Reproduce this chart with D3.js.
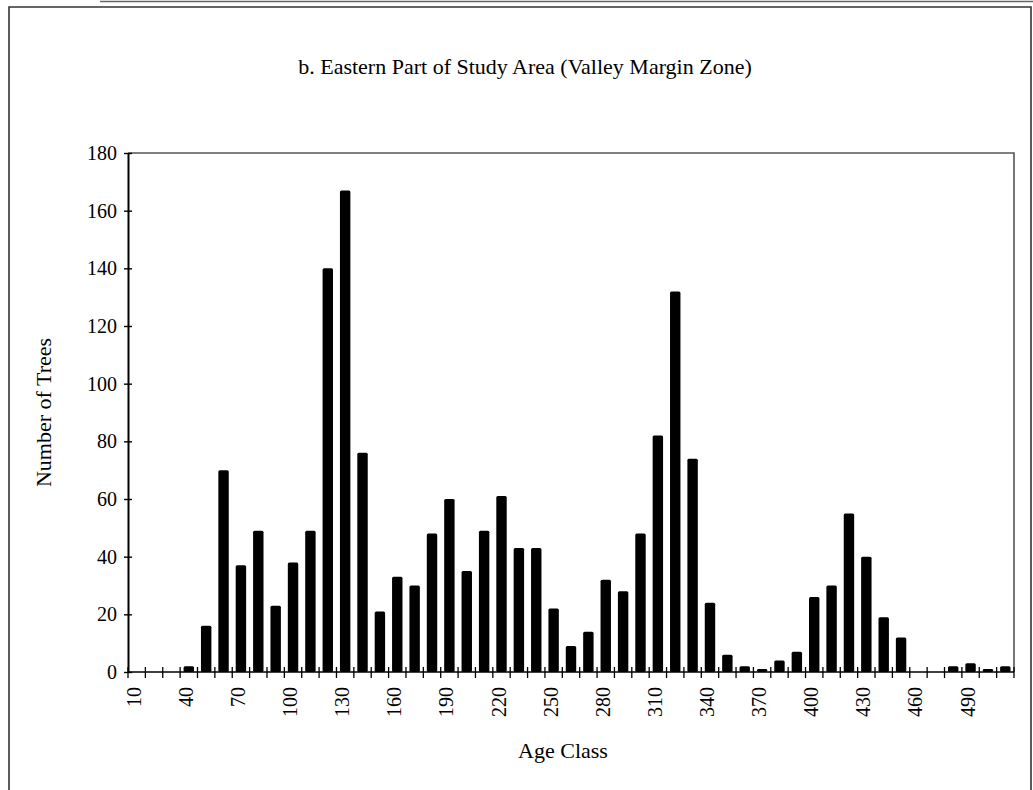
<!DOCTYPE html>
<html>
<head>
<meta charset="utf-8">
<script src="https://cdn.jsdelivr.net/npm/d3@7"></script>
<style>
  html, body { margin: 0; padding: 0; background: #fff; }
  svg { display: block; font-family: "Liberation Serif", "Times New Roman", serif; }
</style>
</head>
<body>
<svg id="chart" width="1033" height="790"></svg>
<script>
// Age classes (years) and the number of trees counted in each class
const ageClasses = [10, 20, 30, 40, 50, 60, 70, 80, 90, 100,
                    110, 120, 130, 140, 150, 160, 170, 180, 190, 200,
                    210, 220, 230, 240, 250, 260, 270, 280, 290, 300,
                    310, 320, 330, 340, 350, 360, 370, 380, 390, 400,
                    410, 420, 430, 440, 450, 460, 470, 480, 490, 500, 510];
const treeCounts = [0, 0, 0, 2, 16, 70, 37, 49, 23, 38,
                    49, 140, 167, 76, 21, 33, 30, 48, 60, 35,
                    49, 61, 43, 43, 22, 9, 14, 32, 28, 48,
                    82, 132, 74, 24, 6, 2, 1, 4, 7, 26,
                    30, 55, 40, 19, 12, 0, 0, 2, 3, 1, 2];
// Labelled age classes on the horizontal axis
const ageTickLabels = [10, 40, 70, 100, 130, 160, 190, 220, 250, 280, 310, 340, 370, 400, 430, 460, 490];
// Count ticks on the vertical axis
const countTicks = [0, 20, 40, 60, 80, 100, 120, 140, 160, 180];

const chartTitle = "b. Eastern Part of Study Area (Valley Margin Zone)";
const xTitle = "Age Class";
const yTitle = "Number of Trees";

const svg = d3.select("#chart");
const plot = { left: 128, right: 1014, top: 153, bottom: 672 };

const x = d3.scaleBand()
  .domain(ageClasses)
  .range([plot.left, plot.right])
  .paddingInner(0.4)
  .paddingOuter(0.2);
const y = d3.scaleLinear()
  .domain([0, 180])
  .range([plot.bottom, plot.top]);

// Outer figure frame
const frame = svg.append("g").attr("fill", "none");
frame.append("path")
  .attr("d", "M9,800 L9,7 L1031,7 L1031,800")
  .attr("stroke", "#333").attr("stroke-width", 1.6);
frame.append("line")
  .attr("x1", 100).attr("x2", 1033).attr("y1", 1.5).attr("y2", 1.5)
  .attr("stroke", "#666").attr("stroke-width", 1.4);

// Title
svg.append("text")
  .attr("x", 525).attr("y", 74)
  .attr("text-anchor", "middle")
  .attr("font-size", 22)
  .text(chartTitle);

// Plot area border (top and right)
svg.append("path")
  .attr("d", `M${plot.left},${plot.top} L${plot.right},${plot.top} L${plot.right},${plot.bottom}`)
  .attr("fill", "none").attr("stroke", "#555").attr("stroke-width", 1.6);

// Bars
svg.append("g")
  .selectAll("rect")
  .data(ageClasses.map((c, i) => ({ c, v: treeCounts[i] })).filter(d => d.v > 0))
  .join("rect")
  .attr("x", d => x(d.c))
  .attr("width", x.bandwidth())
  .attr("y", d => y(d.v))
  .attr("height", d => y(0) - y(d.v))
  .attr("rx", 1.5)
  .attr("fill", "#000");

// Vertical axis with crossing ticks
const yAxis = svg.append("g")
  .attr("transform", `translate(${plot.left},0)`)
  .call(d3.axisLeft(y).tickValues(countTicks).tickSizeOuter(0).tickSizeInner(4).tickPadding(7));
yAxis.select(".domain").attr("stroke", "#000").attr("stroke-width", 2);
yAxis.selectAll(".tick line").attr("x1", -4).attr("x2", 4).attr("stroke-width", 1.4);
yAxis.selectAll(".tick text")
  .attr("font-family", "Liberation Serif, Times New Roman, serif")
  .attr("font-size", 20).attr("fill", "#000");

// Horizontal axis: baseline, crossing ticks on class boundaries, rotated labels
const step = x.step();
const outer = step * 0.2;
const boundaries = ageClasses.map(c => x(c) - outer)
  .concat([x(ageClasses[ageClasses.length - 1]) + x.bandwidth() + outer]);
const xAxis = svg.append("g");
xAxis.append("line")
  .attr("x1", plot.left).attr("x2", plot.right)
  .attr("y1", y(0)).attr("y2", y(0))
  .attr("stroke", "#000").attr("stroke-width", 1.6);
xAxis.selectAll("line.tick")
  .data(boundaries)
  .join("line")
  .attr("class", "tick")
  .attr("x1", d => d).attr("x2", d => d)
  .attr("y1", y(0) - 5).attr("y2", y(0) + 6)
  .attr("stroke", "#000").attr("stroke-width", 1.3);

const xLabels = svg.append("g")
  .attr("transform", `translate(0,${y(0)})`)
  .call(d3.axisBottom(x).tickValues(ageTickLabels).tickSize(0).tickPadding(0));
xLabels.select(".domain").remove();
xLabels.selectAll(".tick text")
  .attr("font-family", "Liberation Serif, Times New Roman, serif")
  .attr("font-size", 20).attr("fill", "#000")
  .attr("text-anchor", "end")
  .attr("transform", "translate(-3,15) rotate(-90)")
  .attr("x", 0).attr("y", 0).attr("dy", "0.35em");

// Axis titles
svg.append("text")
  .attr("x", 563).attr("y", 758)
  .attr("text-anchor", "middle")
  .attr("font-size", 22)
  .text(xTitle);
svg.append("text")
  .attr("transform", `translate(51,${(plot.top + plot.bottom) / 2}) rotate(-90)`)
  .attr("text-anchor", "middle")
  .attr("font-size", 22)
  .text(yTitle);
</script>
</body>
</html>
